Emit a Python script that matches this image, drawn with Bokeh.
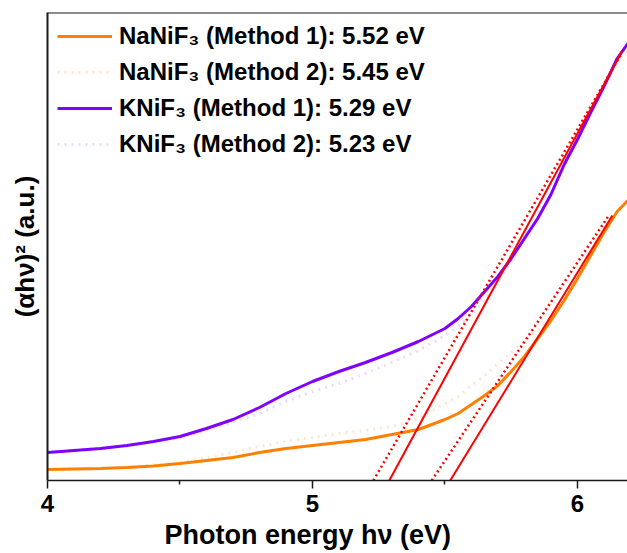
from bokeh.plotting import figure
from bokeh.models import Legend, LegendItem, FixedTicker, Span, Range1d, Title
from bokeh.embed import file_html
from bokeh.resources import INLINE

# Photon energy grid (eV)
energy = [4.0, 4.1, 4.2, 4.3, 4.4, 4.5, 4.6, 4.7, 4.8, 4.9, 5.0, 5.1, 5.2, 5.3, 5.4,
          5.5, 5.55, 5.6, 5.65, 5.7, 5.75, 5.8, 5.85, 5.9, 5.95, 6.0, 6.05, 6.1, 6.15, 6.19]

# (alpha h nu)^2, arbitrary units
nanif3_m1 = [0.11, 0.115, 0.12, 0.13, 0.145, 0.17, 0.20, 0.23, 0.28, 0.32, 0.35, 0.38, 0.41, 0.46, 0.51,
             0.61, 0.67, 0.76, 0.85, 0.95, 1.09, 1.24, 1.42, 1.60, 1.80, 2.02, 2.25, 2.48, 2.69, 2.80]
nanif3_m2 = [0.11, 0.115, 0.12, 0.135, 0.155, 0.18, 0.23, 0.28, 0.34, 0.39, 0.43, 0.47, 0.50, 0.54, 0.62,
             0.77, 0.84, 0.95, 1.05, 1.17, 1.28, 1.40, 1.50, 1.62, 1.81, 2.02, 2.25, 2.48, 2.69, 2.80]
knif3_m1 = [0.28, 0.30, 0.32, 0.35, 0.39, 0.44, 0.52, 0.61, 0.73, 0.87, 0.99, 1.09, 1.18, 1.28, 1.39,
            1.52, 1.62, 1.74, 1.89, 2.04, 2.22, 2.42, 2.62, 2.86, 3.16, 3.41, 3.68, 3.94, 4.22, 4.37]
knif3_m2 = [0.28, 0.30, 0.32, 0.35, 0.39, 0.43, 0.50, 0.58, 0.67, 0.79, 0.89, 0.97, 1.07, 1.18, 1.30,
            1.45, 1.54, 1.66, 1.81, 1.99, 2.20, 2.41, 2.62, 2.86, 3.15, 3.40, 3.67, 3.93, 4.20, 4.35]

# Tangent (Tauc) lines: start at band gap on x-axis, end near the curve top
tan_na_m1_x = [5.52, 6.132]
tan_na_m1_y = [0.0, 2.65]
tan_na_m2_x = [5.45, 6.121]
tan_na_m2_y = [0.0, 2.66]
tan_k_m1_x = [5.29, 6.17]
tan_k_m1_y = [0.0, 4.30]
tan_k_m2_x = [5.23, 6.162]
tan_k_m2_y = [0.0, 4.25]

labels = ["NaNiF₃ (Method 1): 5.52 eV", "NaNiF₃ (Method 2): 5.45 eV",
          "KNiF₃ (Method 1): 5.29 eV", "KNiF₃ (Method 2): 5.23 eV"]
x_ticks = [4, 5, 6]
x_minor = [4.5, 5.5]
x_title = "Photon energy hν (eV)"
y_title = "(αhν)² (a.u.)"

ORANGE = "#FF8000"
PURPLE = "#8000FF"
RED = "#FF0000"
FONT = "Liberation Sans"

p = figure(width=627, height=553, output_backend="svg", toolbar_location=None,
           x_range=Range1d(4.0, 6.189), y_range=Range1d(0, 4.68),
           min_border_left=47, min_border_right=0, min_border_top=12, min_border_bottom=73)
p.outline_line_color = None
p.xgrid.visible = False
p.ygrid.visible = False
p.background_fill_color = "white"
p.border_fill_color = "white"

r1 = p.line(energy, nanif3_m1, line_color=ORANGE, line_width=3)
r2 = p.line(energy, nanif3_m2, line_color=ORANGE, line_width=3, line_alpha=0.2, line_dash="2 5")
r3 = p.line(energy, knif3_m1, line_color=PURPLE, line_width=3)
r4 = p.line(energy, knif3_m2, line_color=PURPLE, line_width=3, line_alpha=0.15, line_dash="2 5")

p.line(tan_na_m1_x, tan_na_m1_y, line_color=RED, line_width=2)
p.line(tan_na_m2_x, tan_na_m2_y, line_color=RED, line_width=2.5, line_dash="2 3")
p.line(tan_k_m1_x, tan_k_m1_y, line_color=RED, line_width=2)
p.line(tan_k_m2_x, tan_k_m2_y, line_color=RED, line_width=2.5, line_dash="2 3")

top = Span(location=4.68, dimension="width", line_color="#1a1a1a", line_width=2)
p.add_layout(top)

xa = p.xaxis[0]
xa.ticker = FixedTicker(ticks=x_ticks, minor_ticks=x_minor)
xa.axis_line_width = 1.5
xa.axis_line_color = "#1a1a1a"
xa.major_tick_line_color = "#1a1a1a"
xa.major_tick_line_width = 1.5
xa.major_tick_out = 8
xa.major_tick_in = 0
xa.minor_tick_line_color = "#1a1a1a"
xa.minor_tick_line_width = 1.5
xa.minor_tick_out = 4
xa.minor_tick_in = 0
xa.major_label_text_font = FONT
xa.major_label_text_font_style = "bold"
xa.major_label_text_font_size = "24px"
xa.major_label_text_color = "black"
xa.major_label_standoff = 6

# x-axis title placed as a bottom title so it can sit left of the frame centre
xt = Title(text=x_title, align="left", offset=117, standoff=7,
           text_font=FONT, text_font_style="bold", text_font_size="27px",
           text_color="black")
p.add_layout(xt, "below")

ya = p.yaxis[0]
ya.ticker = FixedTicker(ticks=[])
ya.axis_line_width = 2
ya.axis_line_color = "#1a1a1a"
ya.major_tick_out = 0
ya.major_tick_in = 0
ya.minor_tick_out = 0
ya.minor_tick_in = 0
ya.major_label_text_font_size = "0px"
ya.axis_label = y_title
ya.axis_label_text_font = FONT
ya.axis_label_text_font_style = "bold"
ya.axis_label_text_font_size = "26px"
ya.axis_label_text_color = "black"
ya.axis_label_standoff = 8

legend = Legend(items=[LegendItem(label=labels[0], renderers=[r1]),
                       LegendItem(label=labels[1], renderers=[r2]),
                       LegendItem(label=labels[2], renderers=[r3]),
                       LegendItem(label=labels[3], renderers=[r4])],
                location="top_left", border_line_alpha=0, background_fill_alpha=0,
                label_text_font=FONT, label_text_font_style="bold", label_text_font_size="24px",
                label_text_color="black",
                glyph_width=55, glyph_height=20, label_standoff=7, spacing=8,
                padding=10, margin=0)
p.add_layout(legend)

open("out.html", "w").write(file_html(p, INLINE))
